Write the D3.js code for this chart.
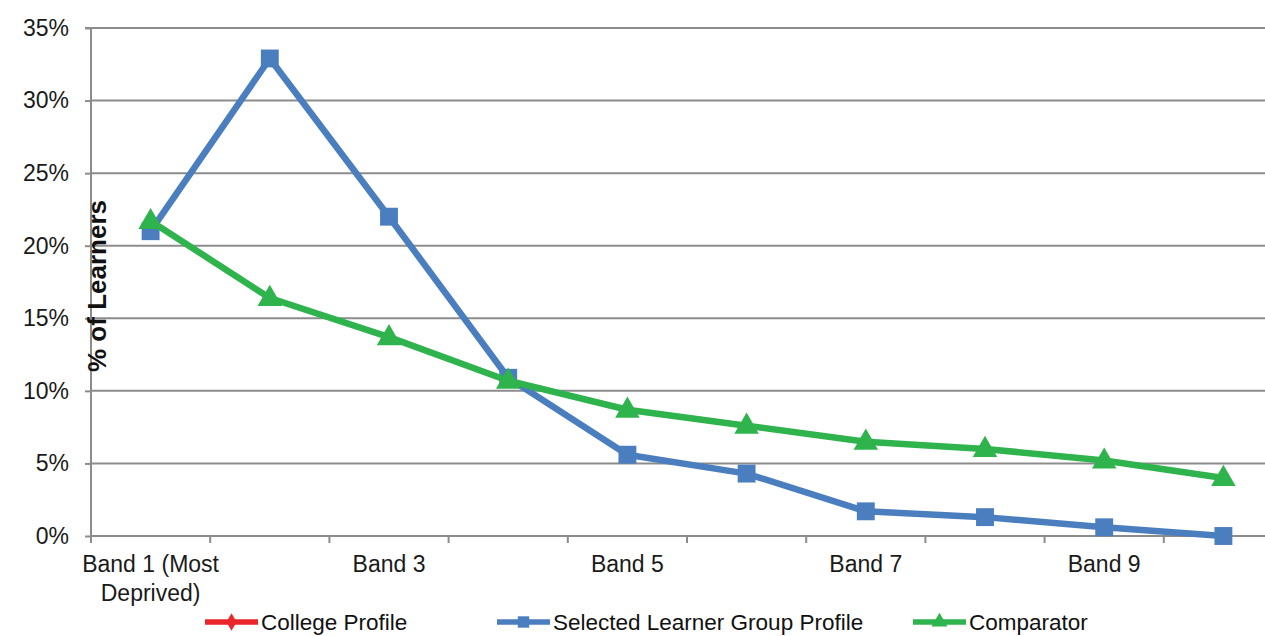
<!DOCTYPE html>
<html>
<head>
<meta charset="utf-8">
<script src="https://cdn.jsdelivr.net/npm/d3@7"></script>
<style>
  html, body { margin: 0; padding: 0; background: #fff; }
  svg { display: block; font-family: "Liberation Sans", Arial, sans-serif; }
</style>
</head>
<body>
<svg id="chart" width="1265" height="636"></svg>
<script>
// ---- data ----
const bands = ["Band 1 (Most Deprived)", "Band 2", "Band 3", "Band 4", "Band 5",
               "Band 6", "Band 7", "Band 8", "Band 9", "Band 10"];
const xTickLabels = ["Band 1 (Most|Deprived)", "", "Band 3", "", "Band 5", "", "Band 7", "", "Band 9", ""];
const collegeProfile = [];   // no visible values in the reference
const selectedLearnerGroup = [21.0, 32.9, 22.0, 10.9, 5.6, 4.3, 1.7, 1.3, 0.6, 0.0];
const comparator = [21.7, 16.4, 13.7, 10.7, 8.7, 7.6, 6.5, 6.0, 5.2, 4.0];
const yTicks = [0, 5, 10, 15, 20, 25, 30, 35];
const seriesNames = ["College Profile", "Selected Learner Group Profile", "Comparator"];
const yTitle = "% of Learners";

// ---- layout ----
const svg = d3.select("#chart");
const plotLeft = 91, step = 119.2, plotTop = 28, plotBottom = 536;
const x = d3.scaleBand().domain(bands).range([plotLeft, plotLeft + step * bands.length]).padding(0);
const y = d3.scaleLinear().domain([0, 35]).range([plotBottom, plotTop]);
const cx = d => x(d) + x.bandwidth() / 2;

const gridColor = "#8c8c8c";
const colors = { "College Profile": "#e8262b", "Selected Learner Group Profile": "#4a7ebf", "Comparator": "#2fb34c" };

// gridlines
svg.append("g").selectAll("line").data(yTicks.filter(d => d > 0)).join("line")
  .attr("x1", plotLeft).attr("x2", 1265)
  .attr("y1", d => y(d)).attr("y2", d => y(d))
  .attr("stroke", gridColor).attr("stroke-width", 2);

// y axis
const yAxis = d3.axisLeft(y).tickValues(yTicks).tickFormat(d => d + "%").tickSize(6).tickPadding(16);
const gy = svg.append("g").attr("transform", `translate(${plotLeft},0)`).call(yAxis);
gy.select(".domain").attr("stroke", gridColor).attr("stroke-width", 2).attr("d", `M-6,${plotTop}H0V${plotBottom}`);
gy.selectAll(".tick line").attr("stroke", gridColor).attr("stroke-width", 2);
gy.selectAll(".tick text").attr("fill", "#1a1a1a").style("font-size", "23px")
  .style("font-family", "'Liberation Sans', Arial, sans-serif");

// x axis line + boundary ticks
svg.append("line").attr("x1", plotLeft).attr("x2", 1265).attr("y1", plotBottom).attr("y2", plotBottom)
  .attr("stroke", gridColor).attr("stroke-width", 2);
svg.append("g").selectAll("line").data(bands).join("line")
  .attr("x1", d => x(d)).attr("x2", d => x(d))
  .attr("y1", plotBottom).attr("y2", plotBottom + 7)
  .attr("stroke", gridColor).attr("stroke-width", 2);

// x labels
const xl = svg.append("g").selectAll("text").data(bands.map((b, i) => ({ b, t: xTickLabels[i] })).filter(d => d.t))
  .join("text")
  .attr("x", d => cx(d.b)).attr("y", 572)
  .attr("text-anchor", "middle").attr("fill", "#1a1a1a").style("font-size", "23px");
xl.each(function(d) {
  const lines = d.t.split("|");
  d3.select(this).selectAll("tspan").data(lines).join("tspan")
    .attr("x", cx(d.b)).attr("dy", (l, i) => i === 0 ? 0 : 29).text(l => l);
});

// y title
svg.append("text")
  .attr("transform", `translate(106,${286}) rotate(-90)`)
  .attr("text-anchor", "middle").attr("font-weight", "bold")
  .attr("fill", "#111").style("font-size", "26px").text(yTitle);

// series
const line = d3.line().x(d => cx(d.b)).y(d => y(d.v));
const seriesData = [
  { name: "College Profile", values: collegeProfile, symbol: d3.symbolDiamond },
  { name: "Selected Learner Group Profile", values: selectedLearnerGroup, symbol: d3.symbolSquare },
  { name: "Comparator", values: comparator, symbol: d3.symbolTriangle }
];
const symSize = { "College Profile": 160, "Selected Learner Group Profile": 320, "Comparator": 260 };

seriesData.forEach(s => {
  const pts = s.values.map((v, i) => ({ b: bands[i], v }));
  if (!pts.length) return;
  svg.append("path").datum(pts).attr("d", line)
    .attr("fill", "none").attr("stroke", colors[s.name]).attr("stroke-width", 6.5)
    .attr("stroke-linejoin", "round");
  svg.append("g").selectAll("path").data(pts).join("path")
    .attr("transform", d => `translate(${cx(d.b)},${y(d.v) + (s.symbol === d3.symbolTriangle ? 1 : 0)})`)
    .attr("d", d3.symbol().type(s.symbol).size(symSize[s.name]))
    .attr("fill", colors[s.name]);
});

// legend
const legendItems = [
  { name: seriesNames[0], x0: 205, symbol: d3.symbolDiamond, size: 90 },
  { name: seriesNames[1], x0: 497, symbol: d3.symbolSquare, size: 130 },
  { name: seriesNames[2], x0: 913, symbol: d3.symbolTriangle, size: 110 }
];
const ly = 622;
const lg = svg.append("g").selectAll("g").data(legendItems).join("g");
lg.append("line").attr("x1", d => d.x0).attr("x2", d => d.x0 + 53).attr("y1", ly).attr("y2", ly)
  .attr("stroke", d => colors[d.name]).attr("stroke-width", 5.5);
lg.append("path").attr("transform", d => `translate(${d.x0 + 26.5},${ly})`)
  .attr("d", d => d3.symbol().type(d.symbol).size(d.size)())
  .attr("fill", d => colors[d.name]);
lg.append("text").attr("x", d => d.x0 + 56).attr("y", ly + 8)
  .attr("fill", "#111").style("font-size", "22.5px").text(d => d.name);
</script>
</body>
</html>
